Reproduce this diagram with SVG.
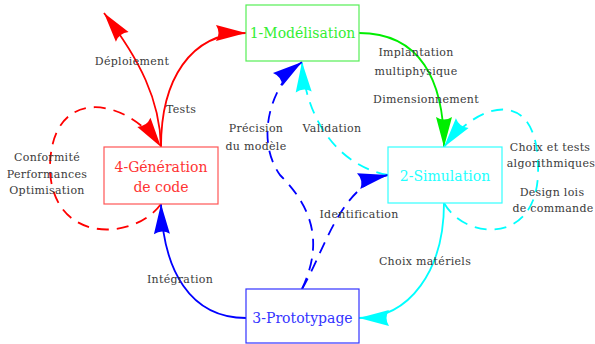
<svg xmlns="http://www.w3.org/2000/svg" width="595" height="344" viewBox="0 0 595 344">
<style>
.box{fill:#fff;stroke-width:1.2}
.nt{font-family:"DejaVu Serif","Liberation Serif",serif;font-size:14px;text-anchor:middle}
.lb{font-family:"DejaVu Serif","Liberation Serif",serif;font-size:11px;fill:#3a3a3a;text-anchor:middle;letter-spacing:0.3px}
.c{fill:none;stroke-width:1.8}
.d{stroke-dasharray:12 8}
</style>
<defs>
<marker id="ar" viewBox="-32 -10 34 20" refX="0" refY="0" markerWidth="34" markerHeight="20" markerUnits="userSpaceOnUse" orient="auto"><path d="M0,0 L-30,-8 Q-25,0 -30,8 Z" fill="#ff0000"/></marker>
<marker id="ag" viewBox="-32 -10 34 20" refX="0" refY="0" markerWidth="34" markerHeight="20" markerUnits="userSpaceOnUse" orient="auto"><path d="M0,0 L-30,-8 Q-25,0 -30,8 Z" fill="#00ee00"/></marker>
<marker id="ab" viewBox="-32 -10 34 20" refX="0" refY="0" markerWidth="34" markerHeight="20" markerUnits="userSpaceOnUse" orient="auto"><path d="M0,0 L-30,-8 Q-25,0 -30,8 Z" fill="#0000ff"/></marker>
<marker id="ac" viewBox="-32 -10 34 20" refX="0" refY="0" markerWidth="34" markerHeight="20" markerUnits="userSpaceOnUse" orient="auto"><path d="M0,0 L-30,-8 Q-25,0 -30,8 Z" fill="#00ffff"/></marker>
</defs>
<rect width="595" height="344" fill="#fff"/>
<g id="connectors">
<path class="c" stroke="#ff0000" d="M161,147 C161,80 190,33 246,33" marker-end="url(#ar)"/>
<path class="c" stroke="#ff0000" d="M161,147 C160,100 140,60 104,13" marker-end="url(#ar)"/>
<path class="c d" stroke="#ff0000" d="M161,204 C135,240 55,245 50,172 C48,85 125,95 161,147" marker-end="url(#ar)"/>
<path class="c" stroke="#00ee00" d="M359,33 C420,33 444,80 444,147" marker-end="url(#ag)"/>
<path class="c d" stroke="#00ffff" d="M444,203 C465,240 535,245 538,175 C541,85 480,100 444,147" marker-end="url(#ac)"/>
<path class="c" stroke="#00ffff" d="M444,203 C444,270 410,318 359,318" marker-end="url(#ac)"/>
<path class="c" stroke="#0000ff" d="M246,318 C190,318 163,270 161,204" marker-end="url(#ab)"/>
<path class="c d" stroke="#00ffff" d="M388,175 C335,165 305,115 302,62" marker-end="url(#ac)"/>
<path class="c d" stroke="#0000ff" d="M302,289 C325,240 310,205 280,175 C255,140 270,85 302,62" marker-end="url(#ab)"/>
<path class="c d" stroke="#0000ff" d="M302,289 C325,250 340,185 388,175" marker-end="url(#ab)"/>
</g>
<g id="labels">
<text class="lb" x="132" y="65">Déploiement</text>
<text class="lb" x="181" y="113">Tests</text>
<text class="lb" x="47" y="161">Conformité</text>
<text class="lb" x="47" y="178">Performances</text>
<text class="lb" x="47" y="194">Optimisation</text>
<text class="lb" x="416" y="56">Implantation</text>
<text class="lb" x="416" y="75">multiphysique</text>
<text class="lb" x="426" y="103">Dimensionnement</text>
<text class="lb" x="256" y="132">Précision</text>
<text class="lb" x="256" y="150">du modèle</text>
<text class="lb" x="332" y="132">Validation</text>
<text class="lb" x="550" y="151">Choix et tests</text>
<text class="lb" x="551" y="167">algorithmiques</text>
<text class="lb" x="552" y="196">Design lois</text>
<text class="lb" x="553" y="212">de commande</text>
<text class="lb" x="359" y="218">Identification</text>
<text class="lb" x="425" y="265">Choix matériels</text>
<text class="lb" x="180" y="283">Intégration</text>
</g>
<g id="node1">
<rect class="box" x="246" y="5" width="113" height="56" stroke="#55ee55"/>
<text class="nt" x="302.5" y="38" fill="#33ee33">1-Modélisation</text>
</g>
<g id="node2">
<rect class="box" x="388" y="147" width="114" height="56" stroke="#33ffff"/>
<text class="nt" x="445" y="181" fill="#22ffff">2-Simulation</text>
</g>
<g id="node3">
<rect class="box" x="246" y="289" width="113" height="54" stroke="#3333ff"/>
<text class="nt" x="302.5" y="323" fill="#3333ff">3-Prototypage</text>
</g>
<g id="node4">
<rect class="box" x="104" y="147" width="114" height="57" stroke="#ff5555"/>
<text class="nt" x="161" y="172" fill="#ff3333">4-Génération</text>
<text class="nt" x="161" y="192" fill="#ff3333">de code</text>
</g>
</svg>
